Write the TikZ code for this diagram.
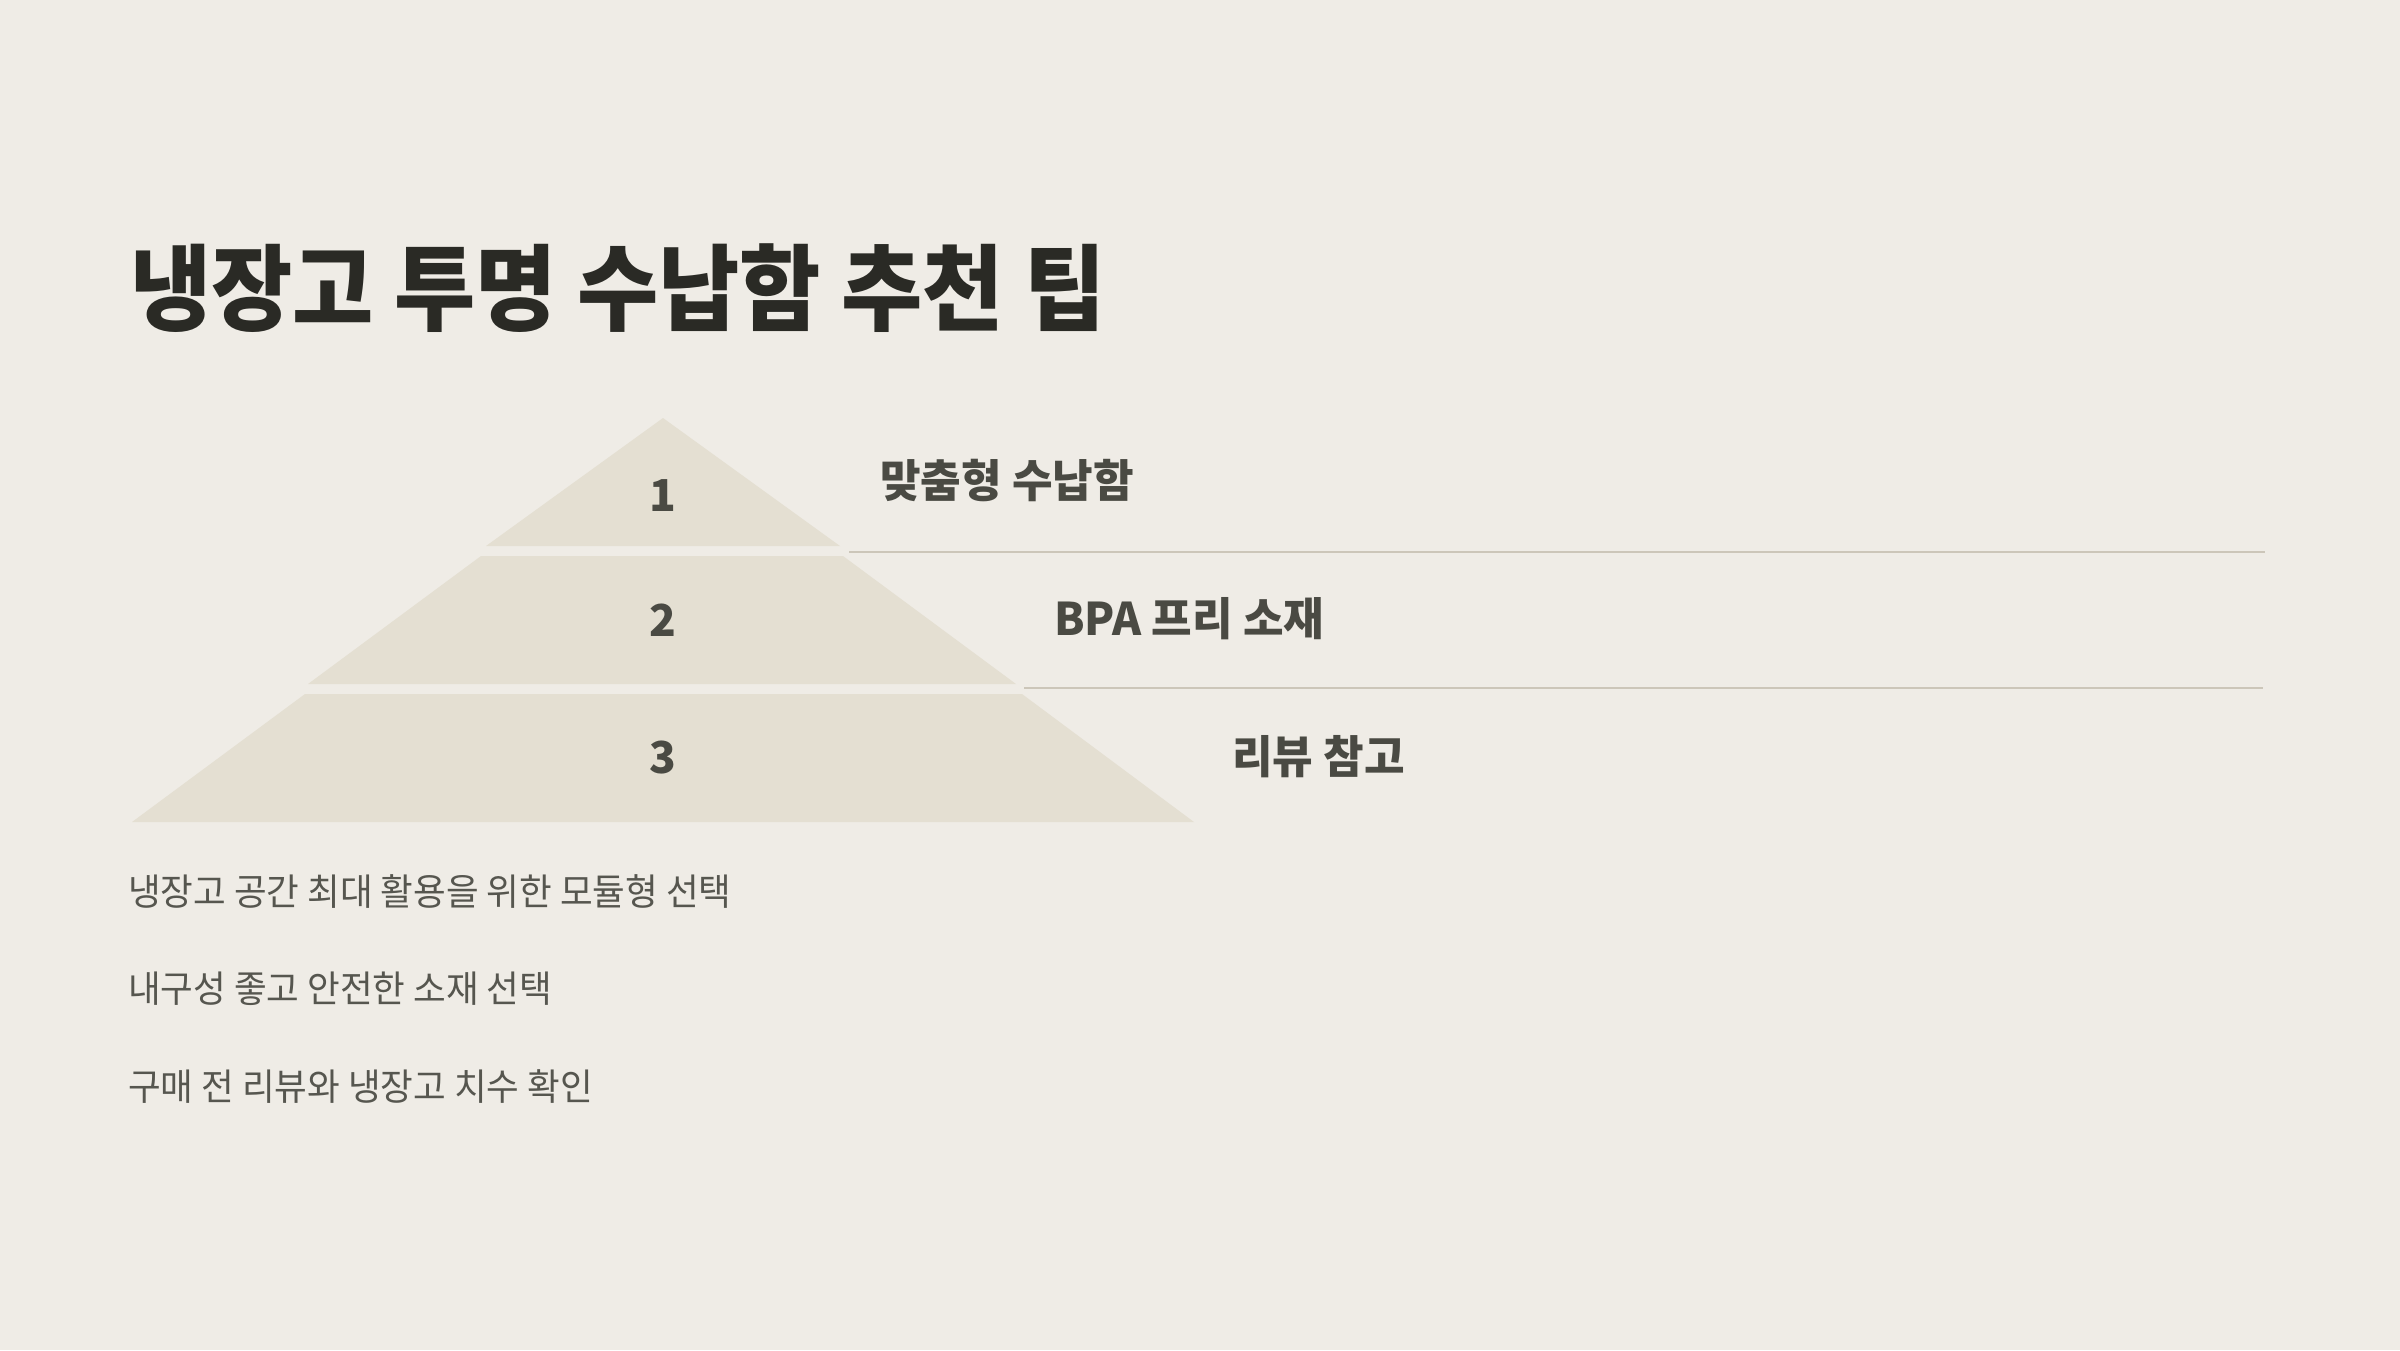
\documentclass[tikz,border=0pt]{standalone}
\usepackage{fontspec}
\usepackage{graphicx}
\newfontfamily\krfont{Noto Sans CJK KR}
\definecolor{pagebg}{HTML}{EFECE6}
\definecolor{tierfill}{HTML}{E4DFD2}
\definecolor{rulegray}{HTML}{CCC6B9}
\definecolor{titleink}{HTML}{2A2A25}
\definecolor{labelink}{HTML}{4A4A43}
\definecolor{bodyink}{HTML}{56564F}
\newcommand{\slim}[2][0.96]{\scalebox{#1}[1]{#2}}

\begin{document}
\begin{tikzpicture}[x=1pt,y=-1pt,
    headline/.style={anchor=west,inner sep=0pt,text=titleink,font=\krfont\bfseries\fontsize{94}{100}\selectfont},
    tiernum/.style={inner sep=0pt,text=labelink,font=\krfont\bfseries\fontsize{44}{48}\selectfont},
    tierlabel/.style={anchor=west,inner sep=0pt,text=labelink,font=\krfont\bfseries\fontsize{45}{50}\selectfont},
    tipline/.style={anchor=west,inner sep=0pt,text=bodyink,font=\krfont\fontsize{37}{40}\selectfont}]
  \fill[pagebg] (0,0) rectangle (2400,1350); % page
  \node[headline] (title) at (130,288) {\slim[0.94]{냉장고 투명 수납함 추천 팁}};
                 % pyramid
  \coordinate (T) at (663,418); % apex
  \coordinate (T1L) at (486,546); % tier 1 base
  \coordinate (T1R) at (840,546);
  \coordinate (T2a) at (481,556); % tier 2
  \coordinate (T2b) at (843,556);
  \coordinate (T2c) at (1016,684);
  \coordinate (T2d) at (308,684);
  \coordinate (T3a) at (305,694); % tier 3
  \coordinate (T3b) at (1022,694);
  \coordinate (T3c) at (1194,822);
  \coordinate (T3d) at (132,822);
  \fill[tierfill] (T) -- (T1R) -- (T1L) -- cycle;
  \fill[tierfill] (T2a) -- (T2b) -- (T2c) -- (T2d) -- cycle;
  \fill[tierfill] (T3a) -- (T3b) -- (T3c) -- (T3d) -- cycle;

  \node[tiernum] (n1) at (663,496) {1};
  \node[tiernum] (n2) at (663,620) {2};
  \node[tiernum] (n3) at (663,758) {3};
  \node[tierlabel] (l1) at (880,481) {\slim[0.98]{맞춤형 수납함}};
  \node[tierlabel] (l2) at (1054,619) {\slim[0.98]{BPA 프리 소재}};
  \node[tierlabel] (l3) at (1232,757) {\slim[0.98]{리뷰 참고}};
                 % dividers
  \coordinate (D1) at (849,552);
  \coordinate (E1) at (2265,552);
  \coordinate (D2) at (1024,688);
  \coordinate (E2) at (2263,688);
  \draw[rulegray,line width=2.2pt] (D1) -- (E1);
  \draw[rulegray,line width=2.2pt] (D2) -- (E2);

  \node[tipline] (t1) at (128,891) {\slim{냉장고 공간 최대 활용을 위한 모듈형 선택}};
  \node[tipline] (t2) at (128,989) {\slim{내구성 좋고 안전한 소재 선택}};
  \node[tipline] (t3) at (128,1087) {\slim{구매 전 리뷰와 냉장고 치수 확인}};
\end{tikzpicture}
\end{document}
